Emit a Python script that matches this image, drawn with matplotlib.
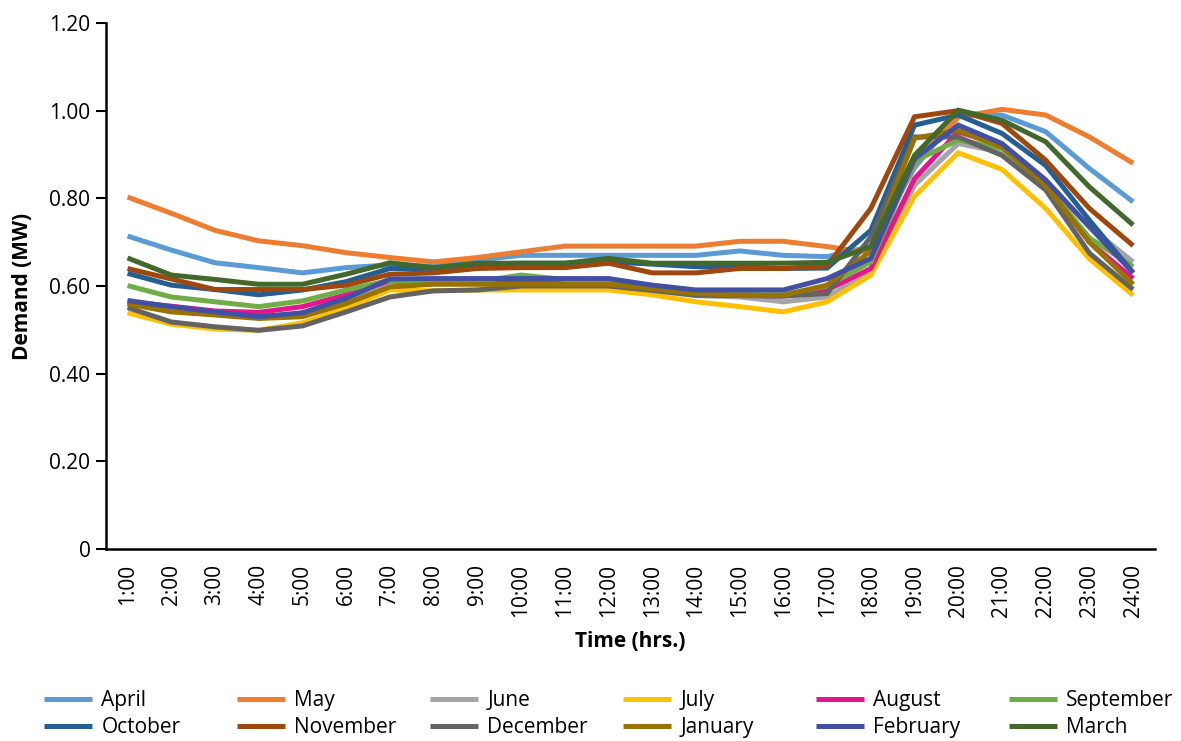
import matplotlib
matplotlib.use("Agg")
import matplotlib.pyplot as plt
from matplotlib.ticker import FixedLocator

plt.rcParams['font.family'] = ['Open Sans', 'DejaVu Sans']

hours = [f"{h}:00" for h in range(1, 25)]

april = [0.714, 0.682, 0.653, 0.642, 0.630, 0.642, 0.648, 0.645, 0.659, 0.670, 0.670, 0.670,
         0.670, 0.670, 0.680, 0.670, 0.667, 0.690, 0.870, 0.990, 0.990, 0.952, 0.868, 0.792]
may = [0.803, 0.766, 0.727, 0.703, 0.692, 0.676, 0.665, 0.655, 0.665, 0.678, 0.691, 0.691,
       0.691, 0.691, 0.702, 0.702, 0.690, 0.675, 0.880, 0.985, 1.003, 0.990, 0.940, 0.880]
june = [0.560, 0.545, 0.535, 0.530, 0.535, 0.565, 0.610, 0.610, 0.605, 0.605, 0.600, 0.600,
        0.590, 0.578, 0.575, 0.564, 0.575, 0.633, 0.830, 0.925, 0.905, 0.835, 0.735, 0.655]
july = [0.539, 0.513, 0.502, 0.499, 0.516, 0.550, 0.591, 0.589, 0.591, 0.591, 0.591, 0.591,
        0.580, 0.564, 0.553, 0.541, 0.564, 0.625, 0.805, 0.904, 0.866, 0.777, 0.662, 0.579]
august = [0.564, 0.554, 0.543, 0.540, 0.553, 0.580, 0.612, 0.607, 0.607, 0.607, 0.607, 0.607,
          0.598, 0.585, 0.580, 0.577, 0.591, 0.640, 0.845, 0.952, 0.920, 0.830, 0.700, 0.617]
september = [0.601, 0.575, 0.564, 0.553, 0.566, 0.591, 0.613, 0.608, 0.610, 0.625, 0.615, 0.610,
             0.598, 0.585, 0.580, 0.580, 0.600, 0.655, 0.885, 0.933, 0.915, 0.830, 0.710, 0.644]
october = [0.629, 0.602, 0.592, 0.580, 0.591, 0.610, 0.640, 0.640, 0.650, 0.652, 0.652, 0.655,
           0.650, 0.644, 0.644, 0.640, 0.641, 0.727, 0.967, 0.990, 0.948, 0.875, 0.750, 0.630]
november = [0.640, 0.616, 0.592, 0.592, 0.592, 0.602, 0.627, 0.630, 0.640, 0.642, 0.642, 0.652,
            0.630, 0.630, 0.640, 0.640, 0.646, 0.777, 0.986, 1.000, 0.971, 0.887, 0.777, 0.692]
december = [0.551, 0.518, 0.507, 0.499, 0.509, 0.541, 0.575, 0.589, 0.591, 0.600, 0.600, 0.600,
            0.590, 0.579, 0.578, 0.577, 0.583, 0.712, 0.940, 0.940, 0.898, 0.819, 0.675, 0.592]
january = [0.559, 0.541, 0.534, 0.526, 0.530, 0.560, 0.598, 0.604, 0.604, 0.604, 0.604, 0.604,
           0.594, 0.583, 0.579, 0.579, 0.602, 0.680, 0.937, 0.955, 0.917, 0.830, 0.700, 0.604]
february = [0.567, 0.553, 0.541, 0.530, 0.539, 0.572, 0.616, 0.617, 0.617, 0.617, 0.617, 0.617,
            0.602, 0.591, 0.591, 0.591, 0.617, 0.663, 0.890, 0.967, 0.925, 0.842, 0.735, 0.630]
march = [0.664, 0.625, 0.615, 0.604, 0.604, 0.627, 0.653, 0.642, 0.652, 0.652, 0.652, 0.663,
         0.652, 0.652, 0.652, 0.652, 0.654, 0.690, 0.898, 1.001, 0.978, 0.929, 0.826, 0.739]

months = ["April", "May", "June", "July", "August", "September",
          "October", "November", "December", "January", "February", "March"]
series = [april, may, june, july, august, september,
          october, november, december, january, february, march]
colors = ["#5B9BD5", "#ED7D31", "#A5A5A5", "#FFC000", "#E3168C", "#70AD47",
          "#255E91", "#9E480E", "#636363", "#997300", "#4150A3", "#43682B"]

yticks = [0, 0.2, 0.4, 0.6, 0.8, 1.0, 1.2]
ytick_labels = ["0", "0.20", "0.40", "0.60", "0.80", "1.00", "1.20"]

W, H = 1181, 741
fig = plt.figure(figsize=(W / 100, H / 100), dpi=100)
ax = fig.add_axes([0.0895, 0.259, 0.8885, 0.710])

x = list(range(1, len(hours) + 1))
handles = []
for name, vals, col in zip(months, series, colors):
    line, = ax.plot(x, vals, color=col, lw=3.6, label=name,
                    solid_joinstyle='miter', solid_capstyle='butt')
    handles.append(line)

ax.set_xlim(0.5, 24.5)
ax.set_ylim(0, 1.2)
ax.xaxis.set_major_locator(FixedLocator(x))
ax.set_xticklabels(hours, rotation=90, fontsize=15)
ax.set_yticks(yticks)
ax.set_yticklabels(ytick_labels, fontsize=15)
ax.tick_params(axis='x', length=0, pad=11)
ax.tick_params(axis='y', length=7, width=1.5, pad=4)

for side in ("top", "right"):
    ax.spines[side].set_visible(False)
for side in ("left", "bottom"):
    ax.spines[side].set_linewidth(1.8)
    ax.spines[side].set_color("black")

ax.set_xlabel("Time (hrs.)", fontsize=15, fontweight='bold', labelpad=10)
ax.set_ylabel("Demand (MW)", fontsize=15, fontweight='bold', labelpad=12)

# Legend: six columns, two rows, filled row by row
ncols = 6
col_left_px = 44
col_step_px = 193
for c in range(ncols):
    pair = [handles[c], handles[c + ncols]]
    fig.legend(pair, [h.get_label() for h in pair], loc='center left',
               bbox_to_anchor=((col_left_px + c * col_step_px) / W, 1 - 714 / H),
               frameon=False, fontsize=15, handlelength=2.3, handletextpad=0.45,
               labelspacing=0.28, borderpad=0, borderaxespad=0)

fig.savefig("out.png", dpi=100)
